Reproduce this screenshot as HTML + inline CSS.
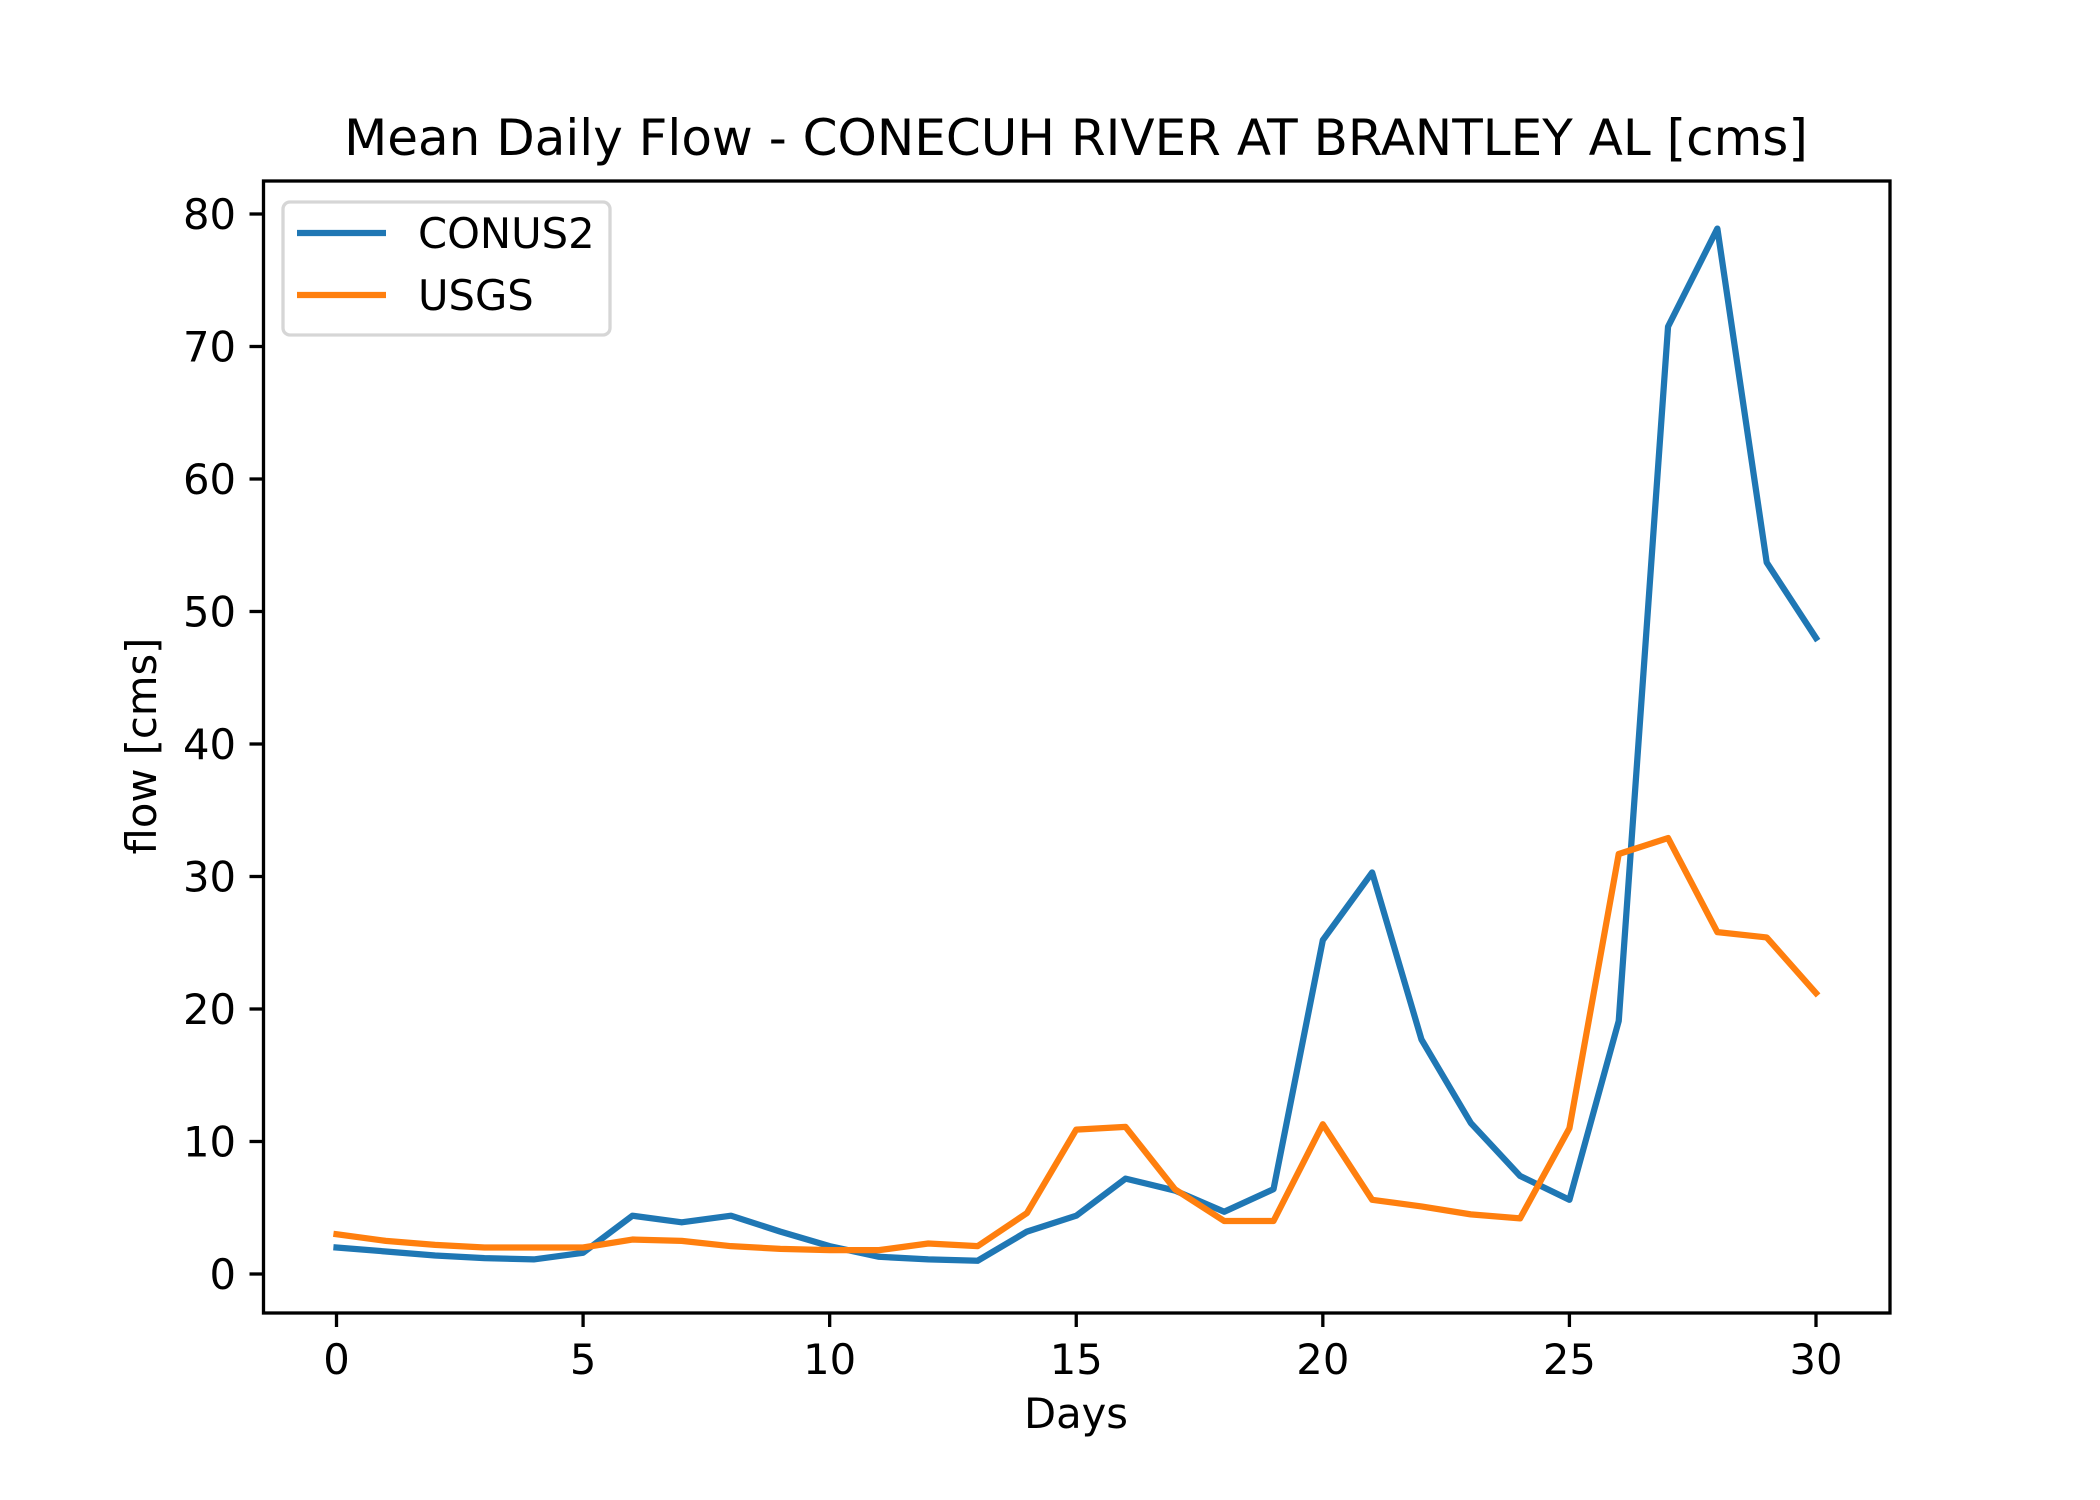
<!DOCTYPE html>
<html><head><meta charset="utf-8"><style>
html,body{margin:0;padding:0;background:#fff;}
svg{display:block;font-family:"DejaVu Sans","Liberation Sans",sans-serif;}
</style></head><body>
<svg id="chart" width="2100" height="1500" viewBox="0 0 2100 1500" xmlns="http://www.w3.org/2000/svg">
<rect width="2100" height="1500" fill="#fff"/>
<text x="1076" y="155" font-size="50" text-anchor="middle">Mean Daily Flow - CONECUH RIVER AT BRANTLEY AL [cms]</text>
<g id="plot"></g>
<rect x="263.5" y="181" width="1626.5" height="1132" fill="none" stroke="#000" stroke-width="3.3"/>
<text x="1076" y="1428" font-size="41.7" text-anchor="middle">Days</text>
<text x="0" y="0" font-size="41.7" text-anchor="middle" transform="translate(156,746) rotate(-90)">flow [cms]</text>
<g>
<rect x="283" y="202" width="327" height="133" rx="7" fill="#fff" fill-opacity="0.8" stroke="#d6d6d6" stroke-width="3.3"/>
<line x1="297" y1="233" x2="386" y2="233" stroke="#1f77b4" stroke-width="6.25"/>
<text x="418" y="248" font-size="41.7">CONUS2</text>
<line x1="297" y1="295" x2="386" y2="295" stroke="#ff7f0e" stroke-width="6.25"/>
<text x="418" y="310" font-size="41.7">USGS</text>
</g>
</svg>
<script>
const days = [0,1,2,3,4,5,6,7,8,9,10,11,12,13,14,15,16,17,18,19,20,21,22,23,24,25,26,27,28,29,30];
const conus2 = [2.0,1.7,1.4,1.2,1.1,1.6,4.4,3.9,4.4,3.2,2.1,1.3,1.1,1.0,3.2,4.4,7.2,6.3,4.7,6.4,25.2,30.3,17.7,11.4,7.4,5.6,19.1,71.5,78.9,53.7,48.0];
const usgs = [3.0,2.5,2.2,2.0,2.0,2.0,2.6,2.5,2.1,1.9,1.8,1.8,2.3,2.1,4.6,10.9,11.1,6.4,4.0,4.0,11.3,5.6,5.1,4.5,4.2,11.0,31.7,32.9,25.8,25.4,21.2];
const xTicks = [0,5,10,15,20,25,30];
const yTicks = [0,10,20,30,40,50,60,70,80];

const NS = "http://www.w3.org/2000/svg";
function xs(v){ return 336.5 + (v - 0) * (1816 - 336.5) / 30; }
function ys(v){ return 1274 - v * 13.25; }
const plot = document.getElementById('plot');
function mk(tag, attrs){ const e = document.createElementNS(NS, tag); for (const k in attrs) e.setAttribute(k, attrs[k]); return e; }

xTicks.forEach(t => {
  const l = mk('line', {x1: xs(t), x2: xs(t), y1: 1313, y2: 1327, stroke: '#000', 'stroke-width': 3.3});
  
  
  plot.appendChild(l);
  const tx = mk('text', {x: xs(t), y: 1374, 'font-size': 41.7, 'text-anchor': 'middle'});
  tx.textContent = t;
  
  
  plot.appendChild(tx);
});
yTicks.forEach(t => {
  const l = mk('line', {x1: 249.5, x2: 263.5, y1: ys(t), y2: ys(t), stroke: '#000', 'stroke-width': 3.3});
  
  
  plot.appendChild(l);
  const tx = mk('text', {x: 236, y: ys(t) + 15, 'font-size': 41.7, 'text-anchor': 'end'});
  tx.textContent = t;
  
  
  plot.appendChild(tx);
});
function series(vals, color, name){
  const pts = vals.map((v, i) => xs(days[i]) + ',' + ys(v)).join(' ');
  const p = mk('polyline', {points: pts, fill: 'none', stroke: color, 'stroke-width': 6.25, 'stroke-linejoin': 'round', 'stroke-linecap': 'square'});
  
  
  plot.appendChild(p);
}
series(conus2, '#1f77b4', 'conus2-line');
series(usgs, '#ff7f0e', 'usgs-line');
</script>
</body></html>
